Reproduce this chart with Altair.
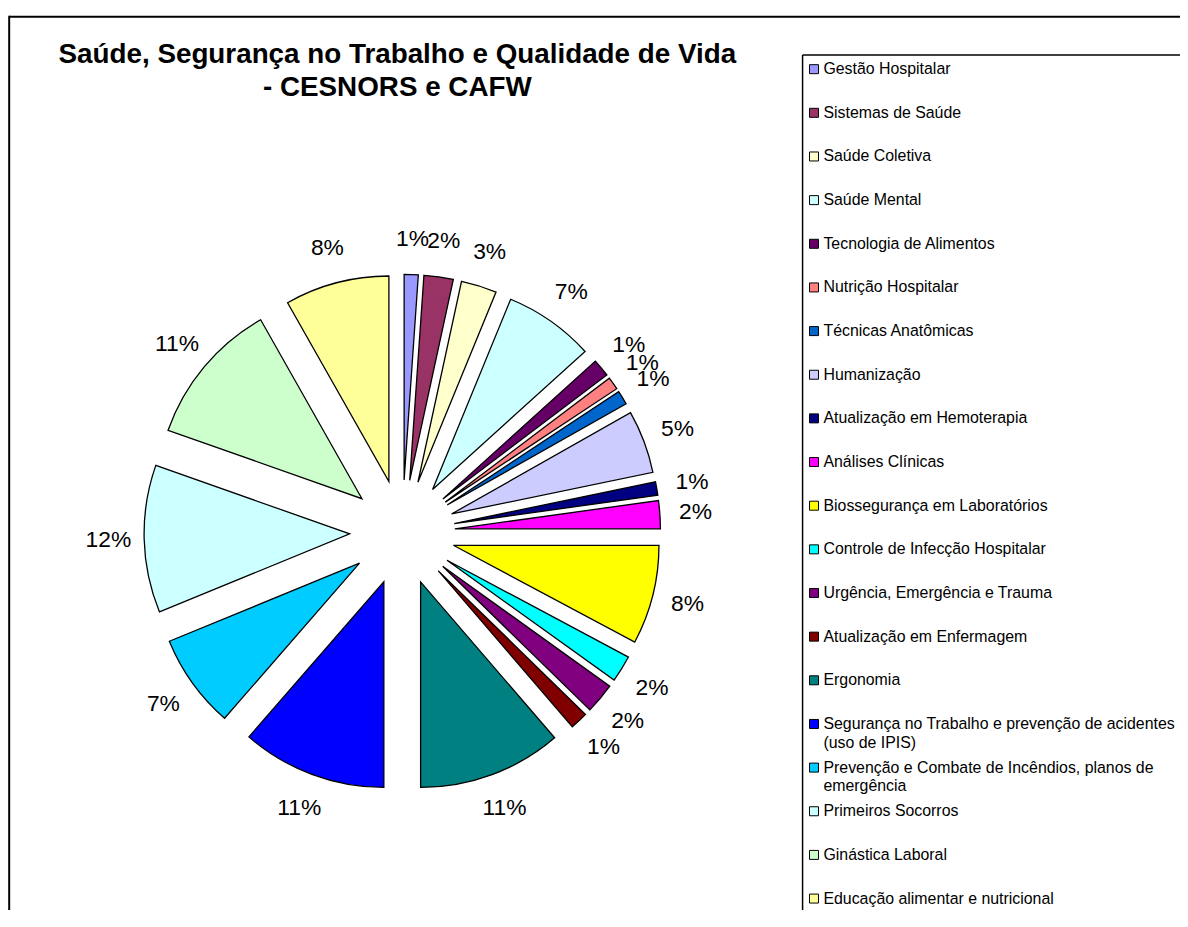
import altair as alt
import pandas as pd

# ---- data -------------------------------------------------------------
categories = [
    "Gestão Hospitalar",
    "Sistemas de Saúde",
    "Saúde Coletiva",
    "Saúde Mental",
    "Tecnologia de Alimentos",
    "Nutrição Hospitalar",
    "Técnicas Anatômicas",
    "Humanização",
    "Atualização em Hemoterapia",
    "Análises Clínicas",
    "Biossegurança em Laboratórios",
    "Controle de Infecção Hospitalar",
    "Urgência, Emergência e Trauma",
    "Atualização em Enfermagem",
    "Ergonomia",
    "Segurança no Trabalho e prevenção de acidentes (uso de IPIS)",
    "Prevenção e Combate de Incêndios, planos de emergência",
    "Primeiros Socorros",
    "Ginástica Laboral",
    "Educação alimentar e nutricional",
]
shares = [1.1, 2.3, 2.8, 7.1, 1.4, 1.0, 1.1, 4.95, 1.05, 2.2,
          7.8, 2.1, 2.4, 1.4, 11.3, 11.4, 7.4, 11.6, 11.4, 8.2]
colors = ["#9999FF", "#993366", "#FFFFCC", "#CCFFFF", "#660066",
          "#FF8080", "#0066CC", "#CCCCFF", "#000080", "#FF00FF",
          "#FFFF00", "#00FFFF", "#800080", "#800000", "#008080",
          "#0000FF", "#00CCFF", "#CCFFFF", "#CCFFCC", "#FFFF99"]
title_lines = ["Saúde, Segurança no Trabalho e Qualidade de Vida",
               "- CESNORS e CAFW"]

df = pd.DataFrame({"cat": categories, "value": shares,
                   "idx": list(range(len(categories)))})

# ---- layout constants --------------------------------------------------
W, H = 1180, 905
CX, CY = 397, 525      # pie centre (view coords)
R = 207                # slice radius
D = 53                 # explode distance
RL = 296               # label radius
FONT = "Liberation Sans"

base = alt.Chart(df).transform_window(
    cum="sum(value)", sort=[alt.SortField("idx")], frame=[None, 0]
).transform_joinaggregate(
    total="sum(value)"
).transform_calculate(
    a0="(datum.cum - datum.value) / datum.total * 2 * PI",
    a1="datum.cum / datum.total * 2 * PI",
).transform_calculate(
    mid="(datum.a0 + datum.a1) / 2"
).transform_calculate(
    px=f"{CX} + {D} * sin(datum.mid)",
    py=f"{CY} - {D} * cos(datum.mid)",
    lx=f"{CX} + {RL} * sin(datum.mid)",
    ly=f"{CY} - {RL} * cos(datum.mid)",
    label="format(datum.value / datum.total, '.0%')",
)

color = alt.Color("cat:N", scale=alt.Scale(domain=categories, range=colors),
                  legend=None)

pie = base.mark_arc(outerRadius=R, innerRadius=0, stroke="black",
                    strokeWidth=1.3).encode(
    theta=alt.Theta("a0:Q", scale=None),
    theta2="a1:Q",
    x=alt.X("px:Q", scale=None, axis=None),
    y=alt.Y("py:Q", scale=None, axis=None),
    color=color,
)

labels = base.mark_text(font=FONT, fontSize=23, color="black",
                        align="center", baseline="middle").encode(
    x=alt.X("lx:Q", scale=None, axis=None),
    y=alt.Y("ly:Q", scale=None, axis=None),
    text="label:N",
)

# ---- legend ------------------------------------------------------------
ROW0, STEP = 58.5, 43.95
leg_y = alt.Y("cat:N", axis=None,
              scale=alt.Scale(domain=categories,
                              range=[ROW0, ROW0 + STEP * (len(categories) - 1)],
                              padding=0))
leg_base = alt.Chart(df).transform_calculate(
    disp="replace(replace(datum.cat, ' (uso', '\\n(uso'), ' emergência', '\\nemergência')"
)
leg_sym = leg_base.mark_square(size=82, stroke="black", strokeWidth=1,
                               opacity=1).encode(
    x=alt.value(811.5), y=leg_y, color=color)
leg_txt = leg_base.mark_text(font=FONT, fontSize=16, align="left",
                             baseline="middle", lineBreak="\n",
                             lineHeight=19, color="black").encode(
    x=alt.value(821), y=leg_y, text="disp:N")

# ---- frame & title -----------------------------------------------------
one = pd.DataFrame({"k": [0]})
frame_top = alt.Chart(one).mark_rule(color="black", strokeWidth=2).encode(
    x=alt.value(1), x2=alt.value(W), y=alt.value(5.7))
frame_left = alt.Chart(one).mark_rule(color="black", strokeWidth=2).encode(
    x=alt.value(1.2), y=alt.value(4.7), y2=alt.value(H))
box_top = alt.Chart(one).mark_rule(color="black", strokeWidth=1.5).encode(
    x=alt.value(800), x2=alt.value(W), y=alt.value(44.2))
box_left = alt.Chart(one).mark_rule(color="black", strokeWidth=1.5).encode(
    x=alt.value(800), y=alt.value(44.2), y2=alt.value(H))
title = alt.Chart(one).mark_text(font=FONT, fontSize=28, fontWeight="bold",
                                 align="center", baseline="top",
                                 lineHeight=34, color="black").encode(
    x=alt.value(392), y=alt.value(30), text=alt.value(title_lines))

chart = alt.layer(
    frame_top, frame_left, box_top, box_left, title,
    pie, labels, leg_sym, leg_txt
).resolve_scale(
    x="independent", y="independent", color="shared"
).properties(
    width=W, height=H,
    autosize=alt.AutoSizeParams(type="none"),
    padding=0, background="white",
).configure_view(stroke=None)

chart.save("out.html", embed_options={"renderer": "svg", "actions": False})
